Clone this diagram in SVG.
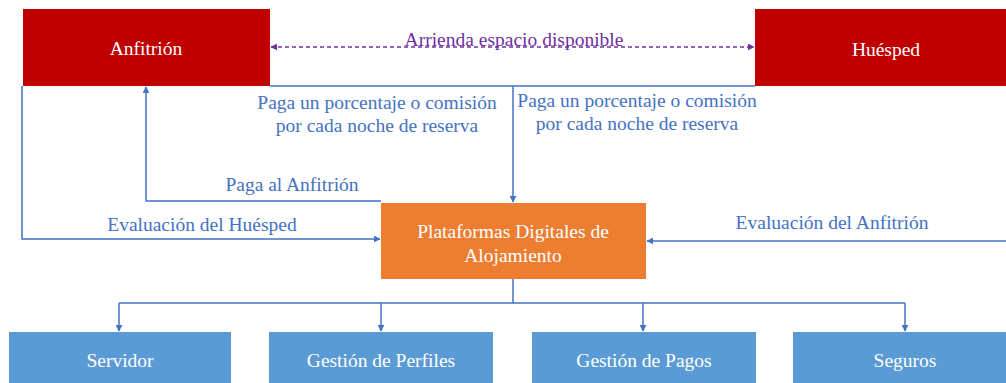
<svg xmlns="http://www.w3.org/2000/svg" width="1006" height="383" viewBox="0 0 1006 383">
<style>
text{font-family:"Liberation Serif","Times New Roman",serif;font-size:19.5px;text-anchor:middle}
.w{fill:#fff}
.b{fill:#4472C4}
.p{fill:#7030A0}
.ln{fill:none;stroke:#4472C4;stroke-width:1.5}
.dash{fill:none;stroke:#7030A0;stroke-width:1.5;stroke-dasharray:4 3}
</style>
<defs>
<marker id="ab" viewBox="0 0 10 10" refX="9" refY="5" markerWidth="7" markerHeight="7" orient="auto-start-reverse" markerUnits="userSpaceOnUse"><path d="M0,0L10,5L0,10z" fill="#4472C4"/></marker>
<marker id="ap" viewBox="0 0 10 10" refX="9" refY="5" markerWidth="7" markerHeight="7" orient="auto-start-reverse" markerUnits="userSpaceOnUse"><path d="M0,0L10,5L0,10z" fill="#7030A0"/></marker>
</defs>
<rect width="1006" height="383" fill="#fff"/>
<g id="connectors">
<path class="dash" d="M271,47H754" marker-start="url(#ap)" marker-end="url(#ap)"/>
<path class="ln" d="M270,86H755"/>
<path class="ln" d="M513,86V202" marker-end="url(#ab)"/>
<path class="ln" d="M22,86V239H380" marker-end="url(#ab)"/>
<path class="ln" d="M381,201H146V87" marker-end="url(#ab)"/>
<path class="ln" d="M1006,241H647" marker-end="url(#ab)"/>
<path class="ln" d="M513,279V303"/>
<path class="ln" d="M119,303H905"/>
<path class="ln" d="M119,303V331" marker-end="url(#ab)"/>
<path class="ln" d="M381,303V331" marker-end="url(#ab)"/>
<path class="ln" d="M643,303V331" marker-end="url(#ab)"/>
<path class="ln" d="M905,303V331" marker-end="url(#ab)"/>
<text class="p" x="514" y="46">Arrienda espacio disponible</text>
<text class="b" x="377" y="109">Paga un porcentaje o comisión</text>
<text class="b" x="377" y="132">por cada noche de reserva</text>
<text class="b" x="637" y="107">Paga un porcentaje o comisión</text>
<text class="b" x="637" y="130">por cada noche de reserva</text>
<text class="b" x="292" y="191">Paga al Anfitrión</text>
<text class="b" x="202" y="231">Evaluación del Huésped</text>
<text class="b" x="832" y="229">Evaluación del Anfitrión</text>
</g>
<g id="anfitrion"><rect x="23" y="9" width="247" height="77" fill="#C00000"/><text class="w" x="146" y="55">Anfitrión</text></g>
<g id="huesped"><rect x="755" y="9" width="251" height="77" fill="#C00000"/><text class="w" x="886" y="56">Huésped</text></g>
<g id="plataformas"><rect x="381" y="203" width="265" height="76" fill="#ED7D31"/><text class="w" x="513" y="238">Plataformas Digitales de</text><text class="w" x="513" y="262">Alojamiento</text></g>
<g id="servidor"><rect x="9" y="332" width="222" height="51" fill="#5B9BD5"/><text class="w" x="120" y="367">Servidor</text></g>
<g id="perfiles"><rect x="269" y="332" width="224" height="51" fill="#5B9BD5"/><text class="w" x="381" y="367">Gestión de Perfiles</text></g>
<g id="pagos"><rect x="532" y="332" width="224" height="51" fill="#5B9BD5"/><text class="w" x="644" y="367">Gestión de Pagos</text></g>
<g id="seguros"><rect x="793" y="332" width="213" height="51" fill="#5B9BD5"/><text class="w" x="905" y="367">Seguros</text></g>
</svg>
